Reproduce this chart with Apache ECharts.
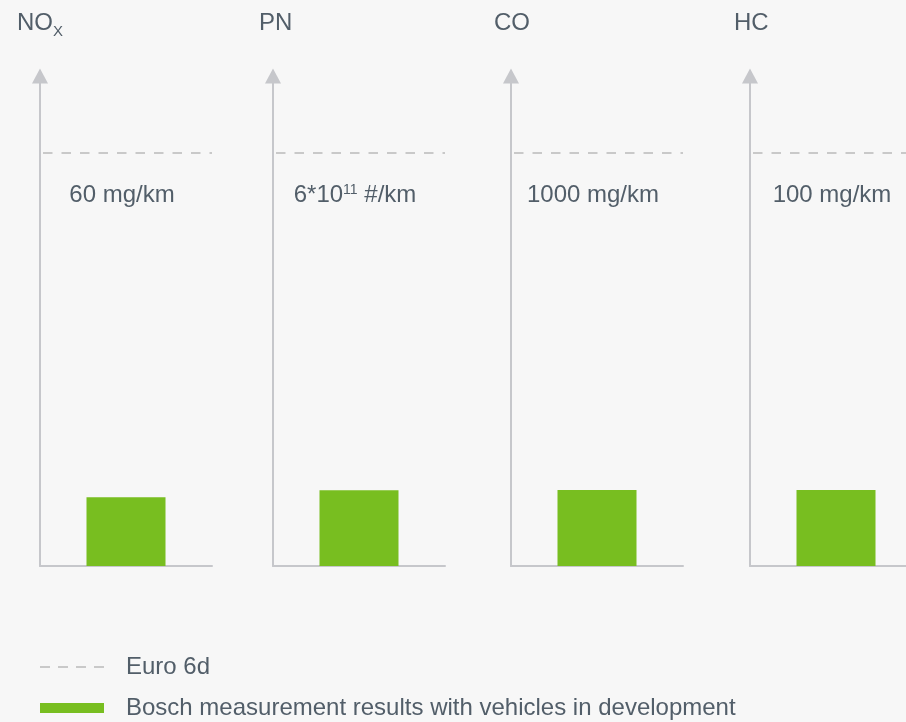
<!DOCTYPE html>
<html>
<head>
<meta charset="utf-8">
<script src="https://cdn.jsdelivr.net/npm/echarts@6/dist/echarts.min.js"></script>
<style>
  html, body { margin: 0; padding: 0; background: #f7f7f7; }
  #chart { width: 906px; height: 722px; }
</style>
</head>
<body>
<div id="chart"></div>
<script>
// Pollutants, Euro 6d limits and measured values (same units as the limits)
const pollutants = ['NOx', 'PN', 'CO', 'HC'];
const titleTexts = ['{n|NO}{s|X}', '{n|PN}', '{n|CO}', '{n|HC}'];
const euro6dLimits = [60, 6e11, 1000, 100];
const limitUnits = ['mg/km', '#/km', 'mg/km', 'mg/km'];
const boschResults = [10, 1.1e11, 184, 18.4];
const legendNames = ['Euro 6d', 'Bosch measurement results with vehicles in development'];

// Layout of the four small panels (the last one runs past the right edge)
const panelLefts = [40, 273, 511, 750];
const titleLefts = [17, 259, 494, 734];
const panelWidth = 172;
const gridTop = 76;
const gridBottom = 156;
const limitShare = 413 / 490; // the limit line sits at this share of the axis height

const TEXT = '#525e69';
const AXIS = '#c6c7cb';
const DASH = '#c9c9c9';
const GREEN = '#78be20';
const FONT = 'Liberation Sans';
const FS = 24;

function limitLabel(v, unit) {
  if (v >= 1e6) {
    const e = Math.floor(Math.log10(v));
    const m = Math.round(v / Math.pow(10, e) * 100) / 100;
    return '{t|' + m + '*10}{s|' + e + '}{t| ' + unit + '}';
  }
  return '{t|' + v + ' ' + unit + '}';
}

const grid = [], xAxis = [], yAxis = [], series = [], title = [];

pollutants.forEach(function (p, i) {
  grid.push({
    left: panelLefts[i], width: panelWidth,
    top: gridTop, bottom: gridBottom,
    outerBoundsMode: 'none', containLabel: false
  });

  // category axis carrying the bar
  xAxis.push({
    type: 'category', gridIndex: i, data: [p],
    axisLine: { show: true, lineStyle: { color: AXIS, width: 2 } },
    axisTick: { show: false }, axisLabel: { show: false }, splitLine: { show: false }
  });
  // hidden value axis spanning the panel for the limit line
  xAxis.push({ type: 'value', gridIndex: i, min: 0, max: 1, show: false });

  yAxis.push({
    type: 'value', gridIndex: i, min: 0, max: euro6dLimits[i] / limitShare,
    axisLine: {
      show: true, symbol: ['none', 'triangle'], symbolSize: [16, 15],
      lineStyle: { color: AXIS, width: 2 }
    },
    axisTick: { show: false }, axisLabel: { show: false }, splitLine: { show: false }
  });

  const L = euro6dLimits[i];
  series.push({
    type: 'line', name: legendNames[0],
    xAxisIndex: 2 * i + 1, yAxisIndex: i,
    color: DASH,
    symbol: 'circle', symbolSize: 0,
    lineStyle: { color: DASH, width: 2, type: [9.5, 9], dashOffset: 15.5 },
    label: { show: false },
    data: [
      [0, L],
      {
        value: [0.5, L],
        label: {
          show: true, position: 'bottom', distance: 30, offset: [-4, 0],
          formatter: limitLabel(L, limitUnits[i]),
          rich: {
            t: { fontFamily: FONT, fontSize: FS, lineHeight: FS, color: TEXT },
            s: { fontFamily: FONT, fontSize: 14, lineHeight: 14, color: TEXT, verticalAlign: 'top' }
          }
        }
      },
      [1, L]
    ],
    silent: true, animation: false, z: 3
  });

  series.push({
    type: 'bar', name: legendNames[1],
    xAxisIndex: 2 * i, yAxisIndex: i,
    barWidth: 79,
    itemStyle: { color: GREEN },
    data: [boschResults[i]],
    silent: true, animation: false
  });

  title.push({
    text: titleTexts[i], left: titleLefts[i], top: 7, padding: 0,
    textStyle: {
      fontWeight: 'normal',
      rich: {
        n: { fontFamily: FONT, fontSize: FS, fontWeight: 'normal', lineHeight: 32, color: TEXT },
        s: { fontFamily: FONT, fontSize: 15, fontWeight: 'normal', lineHeight: 15, color: TEXT, verticalAlign: 'bottom' }
      }
    }
  });
});

const legendText = { fontFamily: FONT, fontSize: FS, color: TEXT, padding: [0, 0, 0, 17] };

const option = {
  backgroundColor: '#f7f7f7',
  animation: false,
  title: title,
  grid: grid,
  xAxis: xAxis,
  yAxis: yAxis,
  series: series,
  legend: [
    {
      left: 40, top: 655, padding: 0, orient: 'horizontal', selectedMode: false,
      itemWidth: 64, itemHeight: 2,
      itemStyle: { borderWidth: 0 },
      data: [{ name: legendNames[0], icon: 'path://M0,0h10v2h-10zM18,0h10v2h-10zM36,0h10v2h-10zM54,0h10v2h-10z' }],
      textStyle: legendText
    },
    {
      left: 40, top: 696, padding: 0, orient: 'horizontal', selectedMode: false,
      itemWidth: 64, itemHeight: 10,
      itemStyle: { borderWidth: 0 },
      data: [{ name: legendNames[1], icon: 'rect' }],
      textStyle: legendText
    }
  ]
};

const chart = echarts.init(document.getElementById('chart'), null, { renderer: 'canvas' });
chart.setOption(option);
</script>
</body>
</html>
